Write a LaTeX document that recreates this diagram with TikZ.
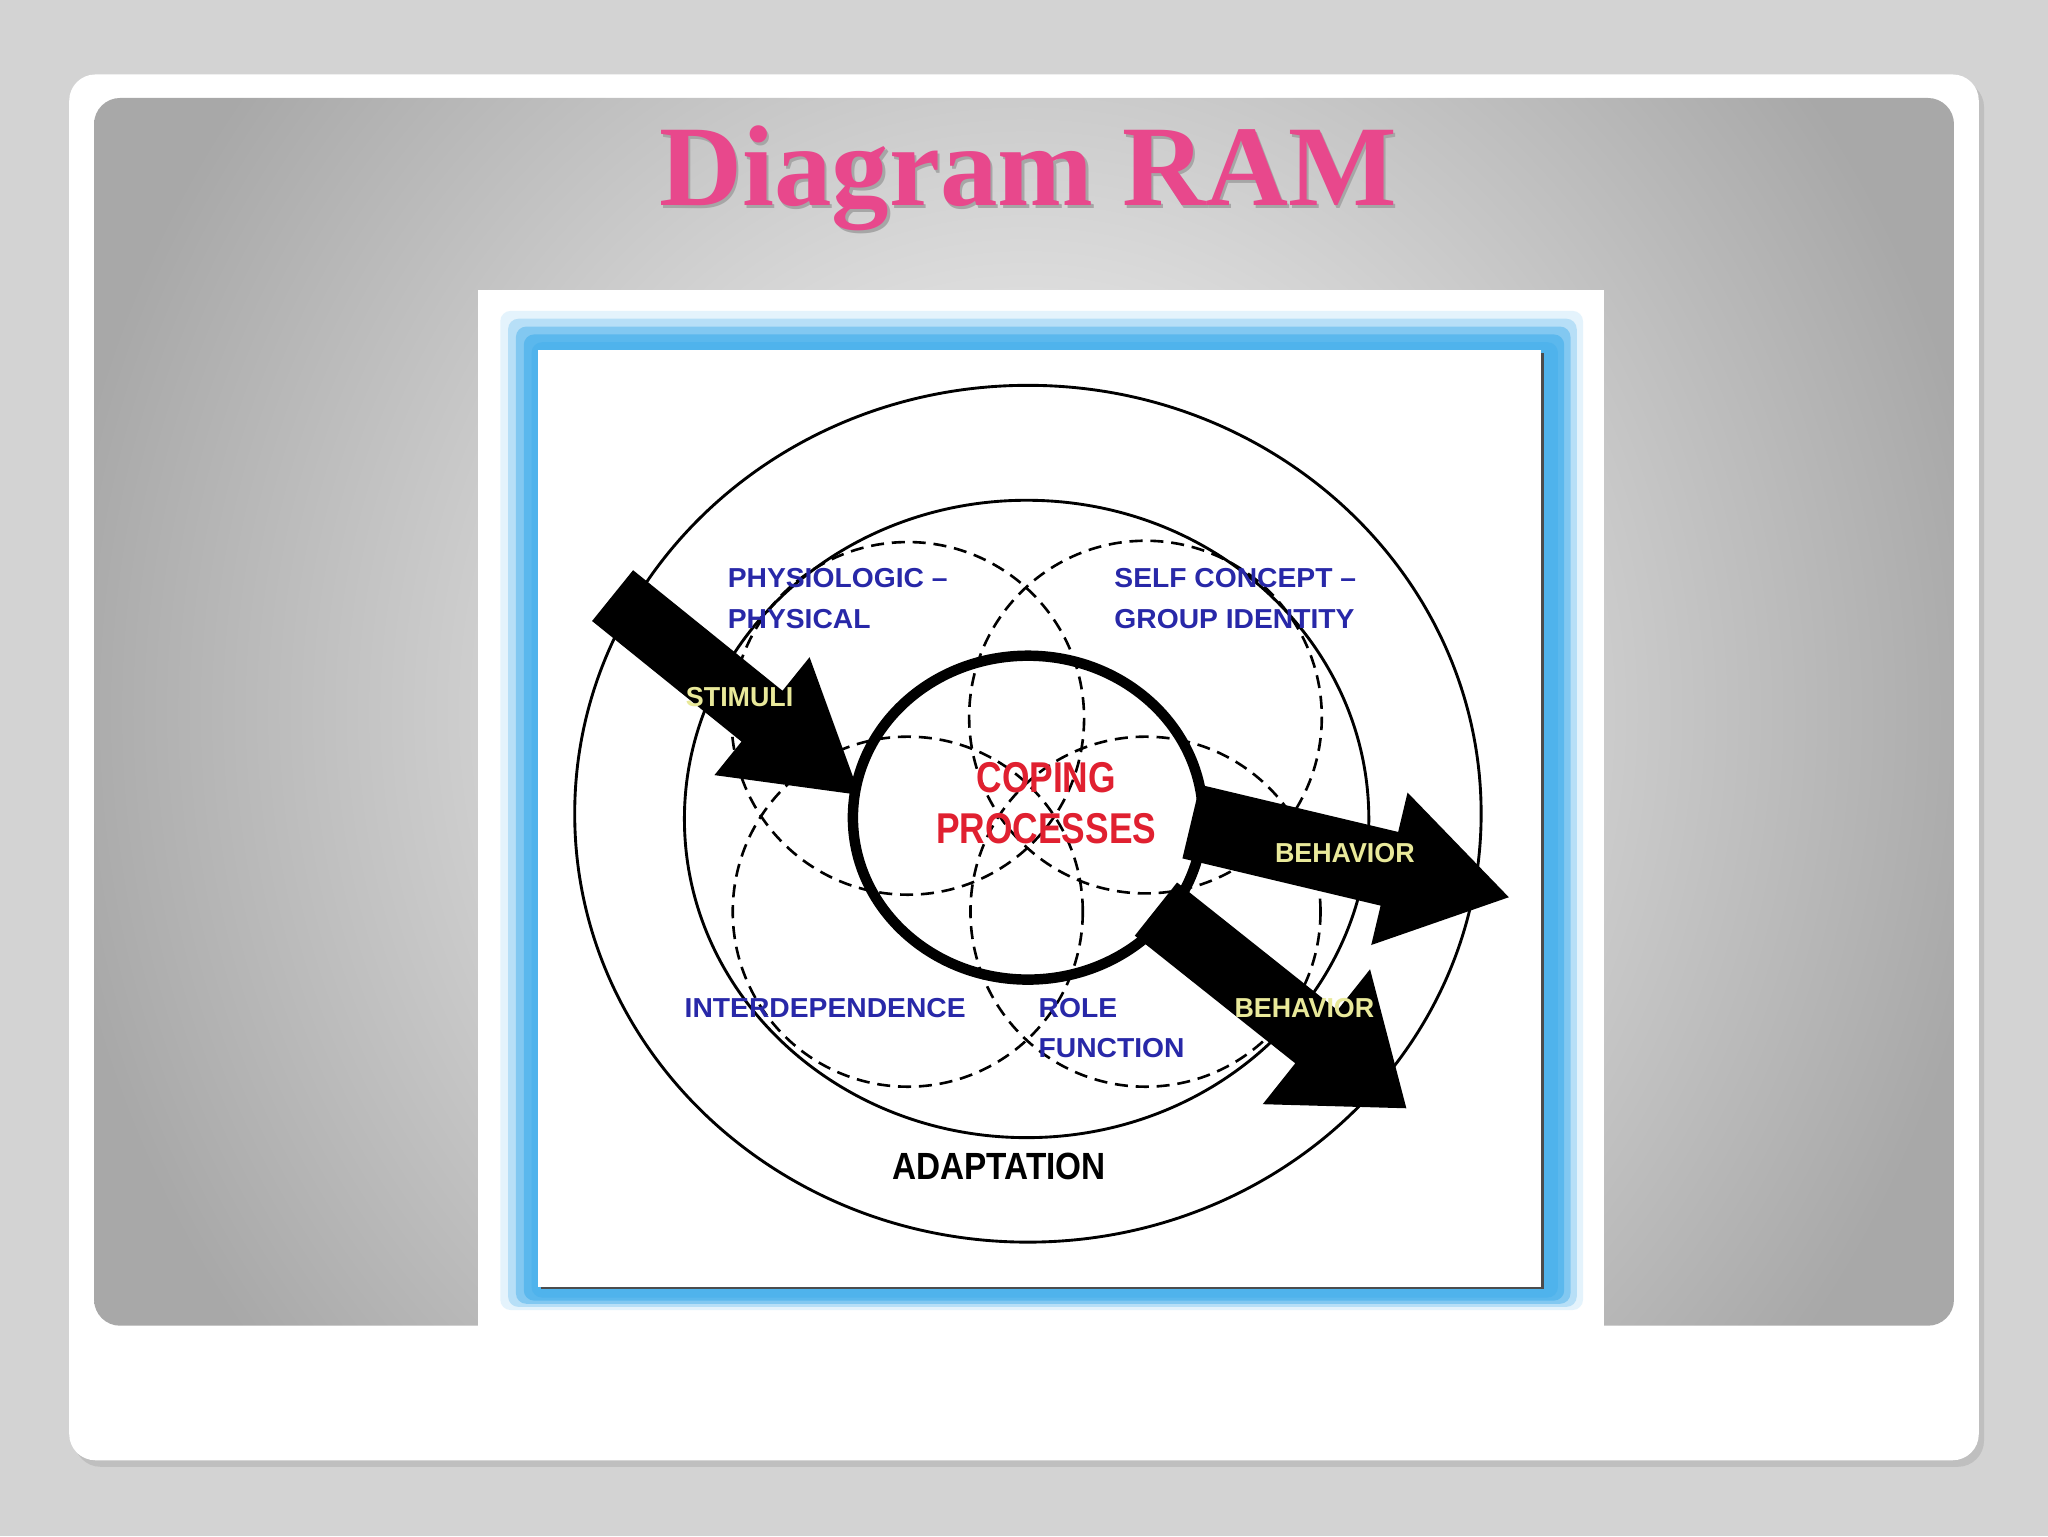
\documentclass[tikz,border=0pt]{standalone}
\usepackage{fontspec}
\setmainfont{Liberation Serif}
\setsansfont{Liberation Sans}
\usetikzlibrary{calc}
\definecolor{bgg}{HTML}{D3D3D3}
\definecolor{pinkt}{HTML}{E8488C}
\definecolor{glow}{HTML}{4FB3EC}
\definecolor{lblue}{HTML}{2828A8}
\definecolor{lyel}{HTML}{E9E99A}
\definecolor{cred}{HTML}{E02030}
\tikzset{
  lab/.style={font=\sffamily\bfseries\fontsize{21}{25}\selectfont, text=lblue, anchor=base west, inner sep=0pt, xscale=1.03},
  ylab/.style={lab, text=lyel, xscale=0.95},
  dcirc/.style={draw, dashed, dash pattern=on 10pt off 6pt, line width=2pt},
  scirc/.style={draw, line width=2.2pt},
  bigarrow/.style={fill=black}
}
\newcommand{\bigarr}[7]{% x y angle L h s H
  \begin{scope}[shift={(#1,#2)}, rotate=#3]
    \fill[bigarrow] (0,#6) -- ({#4-#5},#6) -- ({#4-#5},#7) -- (#4,0) -- ({#4-#5},-#7) -- ({#4-#5},-#6) -- (0,-#6) -- cycle;
  \end{scope}}
\begin{document}
\begin{tikzpicture}[x=1pt,y=-1pt]
\useasboundingbox (0,0) rectangle (1568,1176);
\fill[bgg] (0,0) rectangle (1568,1176);
\fill[black!25, rounded corners=20pt] (57,62) rectangle (1519,1123);
\fill[white, rounded corners=20pt] (53,57) rectangle (1515,1118);
\begin{scope}
\clip[rounded corners=20pt] (72,75) rectangle (1496,1015);
\shade[inner color=white, outer color=black!34] (40,-250) rectangle (1530,1340);
\end{scope}
\node[font=\bfseries\fontsize{88}{94}\selectfont, text=black!35, anchor=base] at (789,160) {Diagram RAM};
\node[font=\bfseries\fontsize{88}{94}\selectfont, text=pinkt, anchor=base] (title) at (787,157) {Diagram RAM};
\fill[white] (366,222) rectangle (1228,1015);
\foreach \i/\o in {0/0.15,6/0.3,12/0.5,18/0.75,24/1} {
  \fill[glow, opacity=\o, rounded corners=8pt] ({383+\i},{238+\i}) rectangle ({1212-\i*0.8},{1003-\i*0.4});
}
\fill[black!70] (414,270) rectangle (1182,987);
\fill[white] (412,268) rectangle (1180,985);
\draw[scirc] (787,623) ellipse [x radius=347, y radius=328];
\draw[scirc] (786,627) ellipse [x radius=262, y radius=244];
\draw[dcirc] (695,550) circle [radius=135];
\draw[dcirc] (877,549) circle [radius=135];
\draw[dcirc] (695,698) circle [radius=134];
\draw[dcirc] (877,698) circle [radius=134];
\bigarr{469}{456}{-38.9}{243}{96}{25}{58}
\bigarr{912}{629}{-13.4}{250}{94}{29}{60}
\bigarr{885}{696}{-38.5}{245}{88}{26}{66}
\draw[line width=8pt, fill=none] (787,626) ellipse [x radius=134, y radius=124];
\node[lab] (phys1) at (557,450) {PHYSIOLOGIC –};
\node[lab] (phys2) at (557,481) {PHYSICAL};
\node[lab] (self1) at (853,450) {SELF CONCEPT –};
\node[lab] (self2) at (853,481) {GROUP IDENTITY};
\node[lab] (inter) at (524,779) {INTERDEPENDENCE};
\node[lab] (role1) at (795,779) {ROLE};
\node[lab] (role2) at (795,810) {FUNCTION};
\node[ylab] (stim) at (525,541) {STIMULI};
\node[ylab] (beh1) at (976,660) {BEHAVIOR};
\node[ylab] (beh2) at (945,779) {BEHAVIOR};
\node[font=\sffamily\bfseries\fontsize{33}{38}\selectfont, text=cred, anchor=base, xscale=0.82] (cop1) at (801,607) {COPING};
\node[font=\sffamily\bfseries\fontsize{33}{38}\selectfont, text=cred, anchor=base, xscale=0.82] (cop2) at (801,646) {PROCESSES};
\node[font=\sffamily\bfseries\fontsize{29}{34}\selectfont, anchor=base, xscale=0.88] (adapt) at (765,903) {ADAPTATION};
\end{tikzpicture}
\end{document}
